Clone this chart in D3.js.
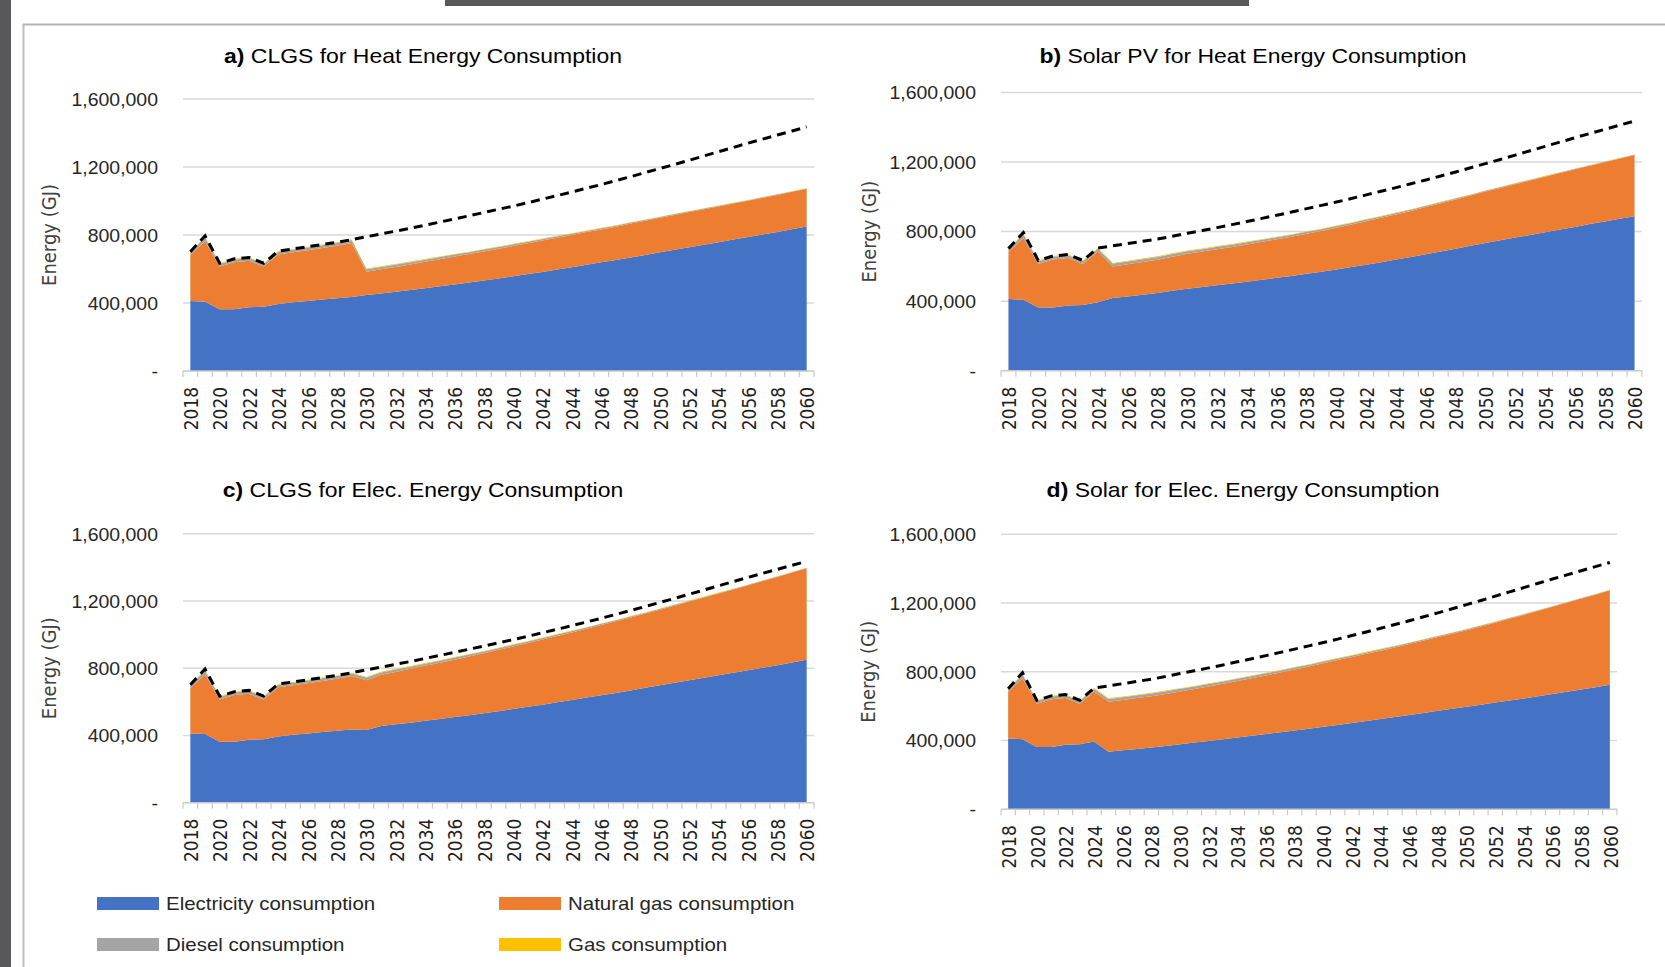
<!DOCTYPE html>
<html>
<head>
<meta charset="utf-8">
<script src="https://cdn.jsdelivr.net/npm/d3@7"></script>
<style>
  body { margin: 0; background: #fff; }
  svg { display: block; }
</style>
</head>
<body>
<div id="chart"></div>
<script>
// all energy values in thousand GJ, one per year 2018..2060
const years = d3.range(2018, 2061);

// dashed line: total consumption of the base case
const baseline = [702, 795, 634, 660, 668, 634, 706, 718, 731, 744, 757, 773,
  790, 806, 823, 840, 858, 876, 894, 913, 932, 951, 970, 990, 1011, 1032, 1053,
  1075, 1097, 1120, 1143, 1167, 1191, 1215, 1240, 1265, 1290, 1315, 1340, 1364,
  1388, 1412, 1436];

// thin layers, the same in every panel
const diesel = [16, 22, 16, 16, 16, 16, 16, 16, 16, 16, 16, 16,
  15, 14, 14, 13, 13, 12, 12, 11, 11, 10, 10, 9, 9, 8, 8, 7, 7, 6, 6, 5, 5, 5,
  4, 4, 4, 3, 3, 3, 3, 2, 2];
const gasFuel = [4, 4, 4, 4, 4, 4, 4, 4, 4, 4, 4, 4,
  4, 4, 4, 4, 4, 3, 3, 3, 3, 3, 3, 3, 3, 3, 3, 2, 2, 2, 2, 2, 2, 2, 2, 2, 2, 2,
  1, 1, 1, 1, 1];

// a) CLGS for heat
const elecA = [412, 408, 363, 363, 375, 378, 394, 404, 412, 420, 428, 436,
  447, 456, 466, 476, 487, 498, 509, 520, 532, 544, 557, 570, 583, 597, 611,
  625, 639, 653, 668, 683, 698, 713, 728, 743, 758, 773, 788, 803, 818, 834, 850];
const ngA = [270, 355, 251, 277, 273, 236, 292, 294, 299, 304, 309, 317,
  137, 142, 146, 151, 155, 160, 164, 168, 171, 175, 178, 181, 184, 187, 189,
  192, 194, 196, 199, 201, 203, 205, 207, 209, 210, 212, 214, 216, 218, 220, 222];

// b) Solar PV for heat
const elecB = [412, 408, 363, 363, 375, 378, 394, 418, 427, 437, 447, 460,
  472, 482, 492, 502, 512, 523, 534, 545, 557, 569, 582, 596, 610, 624, 639,
  654, 670, 686, 702, 718, 735, 750, 766, 781, 796, 812, 827, 843, 858, 874, 889];
const ngB = [270, 355, 251, 277, 273, 236, 292, 182, 185, 188, 191, 195,
  200, 203, 207, 210, 214, 218, 222, 226, 231, 235, 240, 245, 250, 255, 260,
  265, 271, 277, 283, 289, 295, 301, 307, 313, 319, 325, 331, 336, 341, 346, 352];

// c) CLGS for electricity
const elecC = [412, 408, 363, 363, 375, 378, 394, 404, 412, 420, 428, 436,
  432, 456, 466, 476, 487, 498, 509, 520, 532, 544, 557, 570, 583, 597, 611,
  625, 639, 653, 668, 683, 698, 713, 728, 743, 758, 773, 788, 803, 818, 834, 850];
const ngC = [270, 355, 251, 277, 273, 236, 292, 294, 299, 304, 309, 317,
  297, 305, 312, 320, 327, 335, 342, 350, 357, 365, 372, 380, 387, 395, 402,
  410, 418, 426, 434, 442, 450, 459, 468, 477, 486, 495, 505, 515, 525, 535, 545];

// d) Solar for electricity
const elecD = [412, 408, 363, 363, 375, 378, 394, 335, 343, 351, 359, 368,
  378, 388, 398, 408, 418, 428, 438, 448, 459, 469, 480, 491, 502, 514, 525,
  537, 549, 561, 573, 585, 597, 609, 621, 633, 645, 658, 671, 684, 697, 710, 724];
const ngD = [270, 355, 251, 277, 273, 236, 292, 291, 293, 296, 299, 303,
  308, 312, 317, 322, 328, 335, 341, 348, 355, 362, 370, 377, 384, 391, 398,
  405, 413, 421, 429, 437, 445, 455, 465, 476, 486, 497, 507, 518, 529, 539, 550];

const yTicks = [0, 400000, 800000, 1200000, 1600000];
const keys = ["elec", "ng", "diesel", "gas"];
const legendLabels = ["Electricity consumption", "Natural gas consumption",
  "Diesel consumption", "Gas consumption"];

const colors = {elec: "#4472C4", ng: "#ED7D31", diesel: "#A5A5A5", gas: "#FFC000"};
const FONT = "'Liberation Sans', Arial, sans-serif";
const AXIS_FONT = "'DejaVu Sans', Verdana, sans-serif";
const SX = 1.1; // the source picture is stretched a little sideways

const W = 1665, H = 967;

const panels = [
  {tag: "a)", title: " CLGS for Heat Energy Consumption", elec: elecA, ng: ngA,
   left: 183, right: 814, top: 99, bottom: 371, titleX: 423, titleY: 62.5, labelX: 49},
  {tag: "b)", title: " Solar PV for Heat Energy Consumption", elec: elecB, ng: ngB,
   left: 1001, right: 1642, top: 92.5, bottom: 370.7, titleX: 1253, titleY: 63, labelX: 869},
  {tag: "c)", title: " CLGS for Elec. Energy Consumption", elec: elecC, ng: ngC,
   left: 183, right: 814, top: 533.7, bottom: 802.7, titleX: 423, titleY: 496.5, labelX: 49},
  {tag: "d)", title: " Solar for Elec. Energy Consumption", elec: elecD, ng: ngD,
   left: 1001, right: 1617, top: 534.3, bottom: 809.3, titleX: 1243, titleY: 496.5, labelX: 868}
];

const svg = d3.select("#chart").append("svg")
  .attr("width", W)
  .attr("height", H)
  .style("background", "#fff");

// page frame around the figure
svg.append("rect").attr("x", 0).attr("y", 0).attr("width", 11).attr("height", H).attr("fill", "#58585b");
svg.append("line").attr("x1", 23.5).attr("x2", 23.5).attr("y1", 24).attr("y2", H)
  .attr("stroke", "#bdbdbd").attr("stroke-width", 2);
svg.append("line").attr("x1", 23).attr("x2", W).attr("y1", 24.5).attr("y2", 24.5)
  .attr("stroke", "#b4b4b4").attr("stroke-width", 2);
svg.append("rect").attr("x", 445).attr("y", 0).attr("width", 804).attr("height", 6).attr("fill", "#595959");

function drawPanel(p) {
  const rows = years.map((yr, i) => ({
    year: yr,
    elec: p.elec[i] * 1000,
    ng: p.ng[i] * 1000,
    diesel: diesel[i] * 1000,
    gas: gasFuel[i] * 1000,
    base: baseline[i] * 1000
  }));

  const x = d3.scaleBand().domain(years).range([p.left, p.right]);
  const mid = yr => x(yr) + x.bandwidth() / 2;
  const y = d3.scaleLinear().domain([0, 1600000]).range([p.bottom, p.top]);

  const g = svg.append("g");

  // gridlines
  g.selectAll(".grid")
    .data(yTicks.slice(1))
    .join("line")
      .attr("class", "grid")
      .attr("x1", p.left).attr("x2", p.right)
      .attr("y1", d => y(d)).attr("y2", d => y(d))
      .attr("stroke", "#d9d9d9")
      .attr("stroke-width", 1.5);

  // stacked areas
  const stacked = d3.stack().keys(keys)(rows);
  const area = d3.area()
    .x(d => mid(d.data.year))
    .y0(d => y(d[0]))
    .y1(d => y(d[1]));
  g.selectAll(".layer")
    .data(stacked)
    .join("path")
      .attr("class", "layer")
      .attr("fill", d => colors[d.key])
      .attr("d", area);

  // category axis: line plus a tick between every year
  g.append("line")
    .attr("x1", p.left).attr("x2", p.right)
    .attr("y1", p.bottom).attr("y2", p.bottom)
    .attr("stroke", "#c9c9c9").attr("stroke-width", 1.5);
  const edges = years.map(yr => x(yr)).concat(p.right);
  g.selectAll(".edge")
    .data(edges)
    .join("line")
      .attr("class", "edge")
      .attr("x1", d => d).attr("x2", d => d)
      .attr("y1", p.bottom).attr("y2", p.bottom + 6)
      .attr("stroke", "#c9c9c9").attr("stroke-width", 1.2);

  g.append("g")
    .attr("transform", `translate(0,${p.bottom})`)
    .call(d3.axisBottom(x).tickValues(years.filter(yr => yr % 2 === 0)).tickSize(0).tickPadding(0))
    .call(a => a.select(".domain").remove())
    .attr("font-family", AXIS_FONT)
    .attr("font-size", 17)
    .selectAll("text")
      .attr("y", null)
      .attr("dy", null)
      .attr("fill", "#1f1f1f")
      .attr("text-anchor", "end")
      .attr("dominant-baseline", "central")
      .attr("transform", `translate(1,16) scale(${SX},1) rotate(-90)`);

  // value axis
  g.append("g")
    .attr("transform", `translate(${p.left - 25},0)`)
    .call(d3.axisLeft(y).tickValues(yTicks).tickSize(0).tickPadding(0)
      .tickFormat(d => d === 0 ? "-" : d3.format(",")(d)))
    .call(a => a.select(".domain").remove())
    .attr("font-family", FONT)
    .attr("font-size", 17.7)
    .selectAll("text")
      .attr("fill", "#262626")
      .attr("dy", "0.36em")
      .attr("transform", `scale(${SX},1)`);

  // base case total
  const line = d3.line()
    .x(d => mid(d.year))
    .y(d => y(d.base));
  g.append("path")
    .datum(rows)
    .attr("fill", "none")
    .attr("stroke", "#000")
    .attr("stroke-width", 3)
    .attr("stroke-dasharray", "9,6")
    .attr("d", line);

  // axis title
  g.append("text")
    .attr("transform", `translate(${p.labelX},${(p.top + p.bottom) / 2}) scale(${SX},1) rotate(-90)`)
    .attr("text-anchor", "middle")
    .attr("dominant-baseline", "central")
    .attr("font-family", AXIS_FONT)
    .attr("font-size", 18)
    .attr("fill", "#404040")
    .text("Energy (GJ)");

  // panel title
  const t = g.append("text")
    .attr("transform", `translate(${p.titleX},${p.titleY}) scale(1.12,1)`)
    .attr("text-anchor", "middle")
    .attr("font-family", FONT)
    .attr("font-size", 20.5)
    .attr("fill", "#000");
  t.append("tspan").attr("font-weight", "bold").text(p.tag);
  t.append("tspan").text(p.title);
}

panels.forEach(drawPanel);

// legend under panel c
const legend = svg.append("g").attr("font-family", FONT).attr("font-size", 18.6);
const legendX = [97, 499], legendY = [897, 938];
legend.selectAll("g")
  .data(keys)
  .join("g")
    .attr("transform", (d, i) => `translate(${legendX[i % 2]},${legendY[Math.floor(i / 2)]})`)
    .each(function(d, i) {
      const item = d3.select(this);
      item.append("rect")
        .attr("width", 62).attr("height", 13)
        .attr("fill", colors[d]);
      item.append("text")
        .attr("transform", `translate(69,13) scale(${SX},1)`)
        .attr("fill", "#262626")
        .text(legendLabels[i]);
    });
</script>
</body>
</html>
